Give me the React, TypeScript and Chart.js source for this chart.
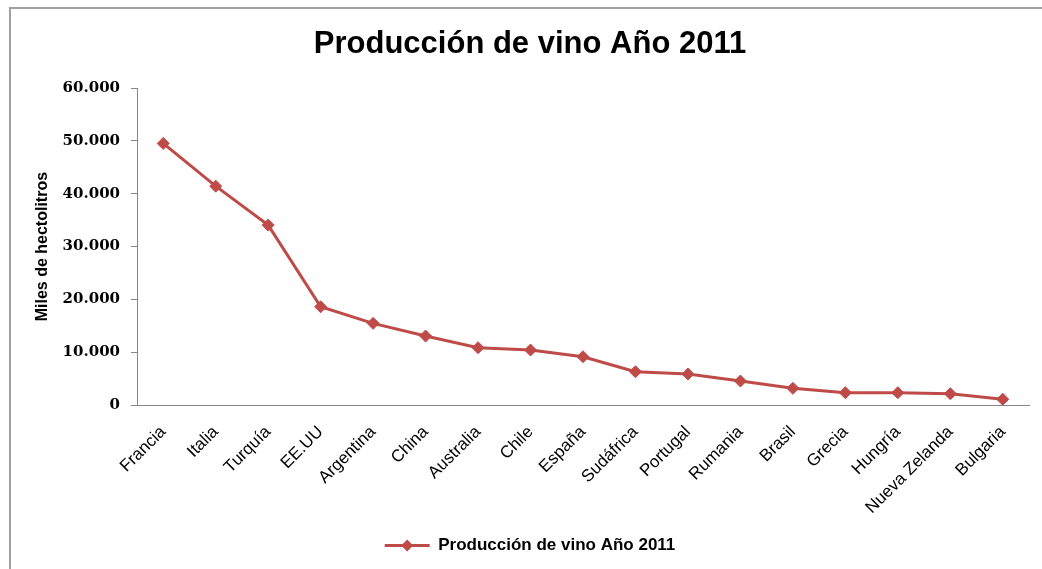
import React, { useEffect, useRef } from "react";
import { Chart, registerables } from "chart.js";

Chart.register(...registerables);

const chartTitle = "Producción de vino Año 2011";
const yAxisTitle = "Miles de hectolitros";
const countries = [
  "Francia",
  "Italia",
  "Turquía",
  "EE.UU",
  "Argentina",
  "China",
  "Australia",
  "Chile",
  "España",
  "Sudáfrica",
  "Portugal",
  "Rumania",
  "Brasil",
  "Grecia",
  "Hungría",
  "Nueva Zelanda",
  "Bulgaria",
];
const production = [
  49550, 41450, 34070, 18600, 15460, 13060, 10850, 10410, 9140, 6300, 5870,
  4540, 3160, 2330, 2330, 2140, 1080,
];
const yMin = 0;
const yMax = 60000;
const yStep = 10000;

const lineColor = "#BE4B48";
const axisColor = "#868686";

function fmt(n: number): string {
  return Math.round(n)
    .toString()
    .replace(/\B(?=(\d{3})+(?!\d))/g, ".");
}

const legendMarker = {
  id: "legendMarker",
  afterDraw(chart: any) {
    const legend = chart.legend;
    if (!legend || !legend.legendHitBoxes) return;
    const ctx = chart.ctx;
    const bw = legend.options.labels.boxWidth;
    legend.legendHitBoxes.forEach((hb: any, i: number) => {
      const ds = chart.data.datasets[i];
      const cx = hb.left + bw / 2;
      const cy = hb.top + hb.height / 2;
      const r = 6;
      ctx.save();
      ctx.fillStyle = ds.borderColor;
      ctx.beginPath();
      ctx.moveTo(cx, cy - r);
      ctx.lineTo(cx + r, cy);
      ctx.lineTo(cx, cy + r);
      ctx.lineTo(cx - r, cy);
      ctx.closePath();
      ctx.fill();
      ctx.restore();
    });
  },
};

export default function App() {
  const ref = useRef<HTMLCanvasElement | null>(null);

  useEffect(() => {
    if (!ref.current) return;
    const chart = new Chart(ref.current, {
      type: "line",
      data: {
        labels: countries,
        datasets: [
          {
            label: chartTitle,
            data: production,
            borderColor: lineColor,
            backgroundColor: lineColor,
            borderWidth: 3,
            pointStyle: "rectRot",
            pointRadius: 6,
            pointBorderWidth: 1,
            pointBackgroundColor: lineColor,
            pointBorderColor: lineColor,
            tension: 0,
          },
        ],
      },
      options: {
        responsive: false,
        animation: false,
        layout: { padding: { left: 18, right: 0, top: 0, bottom: 5 } },
        plugins: {
          title: {
            display: true,
            text: chartTitle,
            color: "#000",
            font: { family: "'Liberation Sans', Arial, sans-serif", size: 31, weight: "bold" },
            padding: { top: 26, bottom: 25 },
          },
          legend: {
            display: true,
            position: "bottom",
            labels: {
              color: "#000",
              boxWidth: 45,
              boxHeight: 3,
              padding: 10,
              font: { family: "'Liberation Sans', Arial, sans-serif", size: 17, weight: "bold" },
              generateLabels(c: any) {
                const items = Chart.defaults.plugins.legend.labels.generateLabels(c);
                items.forEach((it: any) => {
                  it.lineWidth = 0;
                  it.fillStyle = lineColor;
                  it.strokeStyle = lineColor;
                });
                return items;
              },
            },
          },
          tooltip: { enabled: false },
        },
        scales: {
          x: {
            offset: true,
            grid: { display: false },
            border: { display: true, color: axisColor, width: 1 },
            ticks: {
              autoSkip: false,
              minRotation: 45,
              maxRotation: 45,
              padding: 9,
              color: "#000",
              font: { family: "'Liberation Sans', Arial, sans-serif", size: 17 },
            },
            afterFit(s: any) {
              s.height = 122;
              s.paddingRight = 13;
            },
          },
          y: {
            min: yMin,
            max: yMax,
            grid: {
              display: true,
              drawOnChartArea: false,
              drawTicks: true,
              tickLength: 6,
              color: axisColor,
            },
            border: { display: true, color: axisColor, width: 1 },
            ticks: {
              stepSize: yStep,
              padding: 11,
              color: "#000",
              font: { family: "'DejaVu Serif', serif", size: 15, weight: "bold" },
              callback: (v: any) => fmt(Number(v)),
            },
            title: {
              display: true,
              text: yAxisTitle,
              color: "#000",
              font: { family: "'Liberation Sans', Arial, sans-serif", size: 16, weight: "bold" },
              padding: { top: 15, bottom: 0 },
            },
            afterFit(s: any) {
              s.width = 119;
            },
          },
        },
      },
      plugins: [legendMarker],
    });
    return () => chart.destroy();
  }, []);

  return (
    <div
      style={{
        position: "fixed",
        left: 0,
        top: 0,
        width: 1042,
        height: 569,
        background: "#fff",
        overflow: "hidden",
      }}
    >
      <div
        style={{
          position: "absolute",
          left: 9,
          top: 7,
          width: 1100,
          height: 600,
          borderLeft: "2px solid #a0a0a0",
          borderTop: "2px solid #a0a0a0",
        }}
      />
      <canvas
        ref={ref}
        width={1042}
        height={569}
        style={{ position: "absolute", left: 0, top: 0 }}
      />
    </div>
  );
}
